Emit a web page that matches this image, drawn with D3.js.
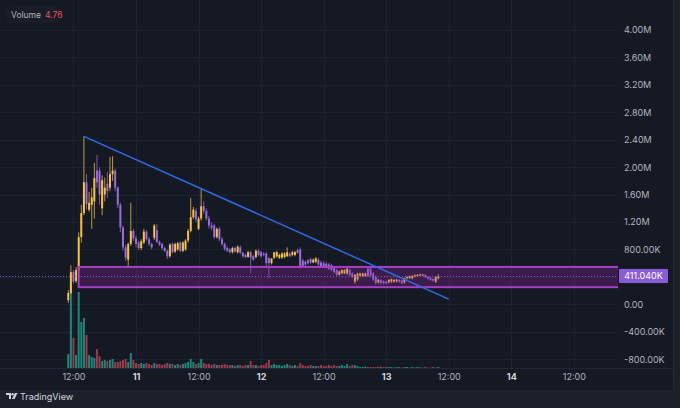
<!DOCTYPE html>
<html><head><meta charset="utf-8">
<script src="https://cdn.jsdelivr.net/npm/d3@7"></script>
<style>html,body{margin:0;padding:0;background:#151924;overflow:hidden}svg{display:block}</style>
</head><body>
<svg id="chart" width="680" height="408"></svg>
<script>
// ---------- DATA (values in K) ----------
const startTime = "2024-03-10T11:00:00Z";
const barMinutes = 30;
const opens = [60,165,470,340,500,980,1330,1780,1380,1450,1500,1950,1950,1400,1600,1760,1700,1900,1950,1700,
1450,1120,830,650,880,1070,960,900,820,900,1060,950,880,970,1080,910,880,820,780,700,
880,770,800,900,780,800,930,1070,1270,1360,1100,1250,1430,1360,1250,1150,1150,980,1100,950,
880,820,800,760,820,760,830,750,720,690,760,700,690,780,760,740,740,670,600,680,
700,680,680,690,700,740,720,720,790,800,640,620,640,660,610,620,650,610,600,590,
580,570,530,500,430,450,450,450,500,450,330,360,420,415,415,520,520,450,400,320,
350,340,330,320,330,330,335,355,350,320,380,385,380,405,410,425,430,425,400,390,
370,330,380];
const highs = [210,570,500,540,1050,1450,2450,1900,1640,1700,2060,2180,2000,1880,1850,1930,2150,2160,1980,1720,
1480,1150,870,900,1480,1100,1000,930,950,1100,1080,980,900,1170,1170,930,900,840,800,890,
900,900,910,920,920,950,1100,1550,1420,1400,1280,1680,1500,1400,1290,1200,1170,1120,1130,980,
900,850,820,840,840,860,860,770,740,780,780,720,800,800,780,760,760,690,620,690,
780,740,760,760,830,760,780,780,810,830,660,640,660,680,670,690,680,640,630,620,
600,590,550,520,490,510,510,550,520,470,440,460,460,460,460,550,550,470,420,370,
370,350,340,370,380,370,375,370,365,390,410,420,425,435,440,445,445,440,410,400,
380,410,440];
const lows = [20,150,300,310,380,900,1300,1380,1350,1100,1250,1700,1450,1300,1500,1550,1650,1800,1650,1400,
1050,780,630,540,850,920,830,790,790,880,930,850,800,940,890,850,790,760,660,680,
740,750,780,760,760,780,900,1050,1240,1200,1080,1220,1320,1220,1100,1080,950,960,920,850,
780,760,740,740,750,740,730,680,670,680,450,630,670,700,680,700,560,380,580,660,
680,660,660,670,690,690,700,700,740,520,540,560,580,590,600,600,560,530,540,520,
500,480,450,410,420,440,440,430,410,380,300,340,400,400,400,400,400,340,290,300,
290,290,290,300,310,310,320,310,290,300,360,370,360,390,400,410,415,390,360,340,
330,310,360];
const closes = [165,470,330,500,980,1330,1780,1460,1480,1560,1840,1780,1600,1810,1700,1650,1900,1950,1700,1450,
1120,830,680,880,1070,960,880,820,920,1060,950,880,830,1150,910,870,820,780,700,870,
760,880,890,780,900,930,1070,1270,1380,1240,1250,1430,1360,1250,1150,1120,980,1100,950,880,
810,780,760,820,770,840,750,700,690,760,680,650,780,720,700,720,600,600,670,760,
760,720,740,740,760,700,760,760,750,550,560,580,600,610,650,670,580,550,560,540,
520,500,470,430,480,500,500,520,430,400,430,450,450,450,450,410,420,360,310,360,
310,310,305,355,365,355,360,330,305,380,400,410,415,425,430,435,435,395,375,355,
345,400,411.04];
const volumes = [140,850,300,130,760,460,500,330,130,110,100,190,120,70,80,70,80,90,60,60,
70,80,90,60,150,80,50,40,50,40,50,40,30,50,40,40,30,40,50,40,
40,30,40,30,40,50,60,90,60,40,50,90,50,40,40,30,40,30,30,30,
40,30,30,30,20,30,30,20,30,30,70,30,30,20,30,30,50,80,30,40,
30,30,20,30,40,30,20,30,20,50,30,20,20,30,20,20,20,30,20,20,
30,20,30,20,20,30,20,40,20,30,30,20,10,10,15,10,10,10,10,10,
15,10,10,10,10,5,10,10,5,10,10,5,10,5,10,5,5,10,5,5,
10,5,10];
const priceTicks = [-800,-400,0,400,800,1200,1600,2000,2400,2800,3200,3600,4000];
const timeTicks = ["2024-03-10T12:00:00Z","2024-03-11T00:00:00Z","2024-03-11T12:00:00Z","2024-03-12T00:00:00Z",
  "2024-03-12T12:00:00Z","2024-03-13T00:00:00Z","2024-03-13T12:00:00Z","2024-03-14T00:00:00Z","2024-03-14T12:00:00Z"];
const timeTickLabels = ["12:00","11","12:00","12","12:00","13","12:00","14","12:00"];
const trendTimes = ["2024-03-10T14:00:00Z","2024-03-13T12:00:00Z"];
const trendValues = [2450, 75];
const zoneStart = "2024-03-10T13:00:00Z";
const zoneValues = [545, 250];
const lastPrice = 411.04;
const legendName = "Volume", legendValue = "4.76";

// ---------- LAYOUT ----------
const W = 680, H = 408, plotW = 618, plotH = 368, canvasW = 673, footerY = 390;
const C = {bg:"#151924", grid:"#1e2230", text:"#b2b5be", day:"#d1d4dc", up:"#f5c242", down:"#9a6cdc",
  vUp:"#23857a", vDown:"#973c4a", trend:"#2f6bea", zone:"#9c27b0", label:"#8a5cd6", footer:"#1c202b"};
const font = "Inter, Roboto, 'Noto Sans', sans-serif";

const parse = d3.utcParse("%Y-%m-%dT%H:%M:%SZ");
const t0 = parse(startTime);
const bars = closes.map((c, i) => ({
  t: d3.utcMinute.offset(t0, i * barMinutes), o: opens[i], h: highs[i], l: lows[i], c, v: volumes[i]
}));

const x = d3.scaleUtc().domain([parse("2024-03-09T21:54:00Z"), parse("2024-03-14T20:29:00Z")]).range([0, plotW]);
const y = d3.scaleLinear().domain([-929, 4438]).range([plotH, 0]);
const yv = d3.scaleLinear().domain([0, 800]).range([plotH, plotH - 80]);
const step = x(d3.utcMinute.offset(t0, barMinutes)) - x(t0);
const bw = Math.max(1.6, step * 0.76);

const svg = d3.select("#chart");
svg.append("rect").attr("width", W).attr("height", H).attr("fill", "#1b1f2a");
svg.append("rect").attr("width", canvasW).attr("height", footerY).attr("fill", C.bg);
svg.append("rect").attr("y", footerY).attr("width", W).attr("height", H - footerY).attr("fill", C.footer);

const defs = svg.append("defs");
defs.append("clipPath").attr("id", "plotclip").append("rect").attr("width", plotW).attr("height", plotH);

// grid
const grid = svg.append("g");
grid.selectAll(".hg").data(priceTicks).join("line")
  .attr("x1", 0).attr("x2", plotW).attr("y1", d => Math.round(y(d)) + 0.5).attr("y2", d => Math.round(y(d)) + 0.5)
  .attr("stroke", C.grid);
grid.selectAll(".vg").data(timeTicks).join("line")
  .attr("y1", 0).attr("y2", plotH).attr("x1", d => Math.round(x(parse(d))) + 0.5).attr("x2", d => Math.round(x(parse(d))) + 0.5)
  .attr("stroke", C.grid);

const plot = svg.append("g").attr("clip-path", "url(#plotclip)");

// volume
plot.append("g").selectAll("rect").data(bars).join("rect")
  .attr("x", d => x(d.t) - bw / 2).attr("width", bw)
  .attr("y", d => yv(d.v)).attr("height", d => plotH - yv(d.v))
  .attr("fill", d => d.c >= d.o ? C.vUp : C.vDown);

// candles
const cg = plot.append("g");
cg.selectAll("line").data(bars).join("line")
  .attr("x1", d => x(d.t)).attr("x2", d => x(d.t))
  .attr("y1", d => y(d.h)).attr("y2", d => y(d.l))
  .attr("stroke", d => d.c >= d.o ? C.up : C.down).attr("stroke-width", 1).attr("stroke-opacity", 0.75);
cg.selectAll("rect").data(bars).join("rect")
  .attr("x", d => x(d.t) - bw / 2).attr("width", bw)
  .attr("y", d => y(Math.max(d.o, d.c)))
  .attr("height", d => Math.max(1, Math.abs(y(d.o) - y(d.c))))
  .attr("fill", d => d.c >= d.o ? C.up : C.down);

// zone rectangle
const zx0 = x(parse(zoneStart));
plot.append("rect")
  .attr("x", zx0).attr("y", y(zoneValues[0]))
  .attr("width", plotW - zx0 + 2).attr("height", y(zoneValues[1]) - y(zoneValues[0]))
  .attr("fill", C.zone).attr("fill-opacity", 0.28)
  .attr("stroke", "#a63fc6").attr("stroke-width", 2);

// last price line
plot.append("line").attr("x1", 0).attr("x2", plotW)
  .attr("y1", Math.round(y(lastPrice)) + 0.5).attr("y2", Math.round(y(lastPrice)) + 0.5)
  .attr("stroke", C.label).attr("stroke-width", 1).attr("stroke-dasharray", "1,2").attr("stroke-opacity", 0.9);

// trend line
plot.append("path")
  .datum(trendTimes.map((t, i) => [x(parse(t)), y(trendValues[i])]))
  .attr("d", d3.line()).attr("stroke", C.trend).attr("stroke-width", 1.5).attr("fill", "none");

// price axis (labels hidden where the last-price label covers them, as in the reference)
const fmt = v => v === 0 ? "0.00" : (Math.abs(v) >= 1000 ? (v / 1000).toFixed(2) + "M" : v.toFixed(2) + "K");
const ly = y(lastPrice);
const visibleTicks = priceTicks.filter(v => Math.abs(y(v) - ly) > 12);
const yAxis = svg.append("g").attr("transform", `translate(${plotW},0)`)
  .call(d3.axisRight(y).tickValues(visibleTicks).tickFormat(fmt).tickSize(0).tickPadding(6));
yAxis.select(".domain").remove();
yAxis.selectAll("text").attr("fill", C.text).attr("font-size", 9).attr("font-family", font);

// last price label
svg.append("rect").attr("x", plotW + 1).attr("y", ly - 7).attr("width", 49).attr("height", 14).attr("rx", 1).attr("fill", C.label);
svg.append("text").attr("x", plotW + 25.5).attr("y", ly).attr("dy", "0.35em").attr("text-anchor", "middle")
  .attr("fill", "#ffffff").attr("font-size", 9).attr("font-family", font).text(lastPrice.toFixed(3) + "K");

// time axis
svg.append("line").attr("x1", 0).attr("x2", canvasW).attr("y1", plotH + 0.5).attr("y2", plotH + 0.5).attr("stroke", "#22263a");
const xAxis = svg.append("g").attr("transform", `translate(0,${plotH})`)
  .call(d3.axisBottom(x).tickValues(timeTicks.map(parse)).tickFormat((d, i) => timeTickLabels[i]).tickSize(0).tickPadding(6));
xAxis.select(".domain").remove();
xAxis.selectAll("text").attr("font-family", font).attr("font-size", 9)
  .attr("fill", (d, i) => timeTickLabels[i].includes(":") ? C.text : C.day)
  .attr("font-weight", (d, i) => timeTickLabels[i].includes(":") ? 400 : 700);

// right border of canvas
svg.append("line").attr("x1", canvasW + 0.5).attr("x2", canvasW + 0.5).attr("y1", 0).attr("y2", footerY).attr("stroke", "#242838");

// legend
svg.append("rect").attr("x", 7).attr("y", 7).attr("width", 52).attr("height", 16).attr("rx", 3).attr("fill", "#ffffff").attr("fill-opacity", 0.02);
const lg = svg.append("text").attr("x", 11).attr("y", 15).attr("dy", "0.35em").attr("font-family", font).attr("font-size", 8.5);
lg.append("tspan").attr("fill", C.text).text(legendName);
lg.append("tspan").attr("dx", 4).attr("fill", "#f0505e").text(legendValue);

// footer logo
const logo = svg.append("g").attr("transform", "translate(6,393)").attr("fill", "#d1d4dc");
logo.append("path").attr("d", "M0 0 H5 V6 H3 V2 H0 Z");
logo.append("circle").attr("cx", 6.6).attr("cy", 1.2).attr("r", 1.2);
logo.append("path").attr("d", "M9 0 H11.5 L8.5 6 H6 Z");
svg.append("text").attr("x", 20).attr("y", 397).attr("dy", "0.35em").attr("font-family", font).attr("font-size", 9)
  .attr("fill", "#d1d4dc").text("TradingView");
</script>
</body></html>
